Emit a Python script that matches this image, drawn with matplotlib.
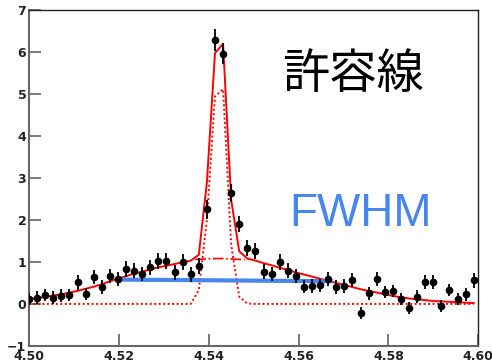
import numpy as np
import matplotlib.pyplot as plt

# binned mass spectrum (bin centres, counts, errors)
mass = [4.5000, 4.5018, 4.5036, 4.5054, 4.5072, 4.5090, 4.5108, 4.5126,
        4.5144, 4.5162, 4.5180, 4.5198, 4.5216, 4.5234, 4.5252, 4.5270,
        4.5288, 4.5306, 4.5324, 4.5342, 4.5360, 4.5378, 4.5396, 4.5414,
        4.5432, 4.5450, 4.5468, 4.5486, 4.5504, 4.5522, 4.5540, 4.5558,
        4.5576, 4.5594, 4.5612, 4.5630, 4.5648, 4.5666, 4.5684, 4.5702,
        4.5720, 4.5738, 4.5756, 4.5774, 4.5792, 4.5810, 4.5828, 4.5846,
        4.5864, 4.5882, 4.5900, 4.5918, 4.5936, 4.5954, 4.5972, 4.5990]
counts = [0.12, 0.15, 0.21, 0.15, 0.20, 0.21, 0.51, 0.24, 0.64, 0.40,
          0.67, 0.60, 0.83, 0.79, 0.71, 0.87, 1.02, 1.02, 0.75, 1.00,
          0.71, 0.90, 2.25, 6.29, 5.95, 2.64, 1.90, 1.33, 1.25, 0.77,
          0.71, 0.99, 0.79, 0.67, 0.41, 0.43, 0.44, 0.60, 0.40, 0.43,
          0.57, -0.22, 0.25, 0.60, 0.28, 0.31, 0.12, -0.10, 0.17, 0.52,
          0.52, -0.05, 0.33, 0.12, 0.23, 0.56]
errors = [0.15, 0.15, 0.15, 0.15, 0.15, 0.15, 0.17, 0.15, 0.17, 0.16,
          0.17, 0.17, 0.18, 0.18, 0.17, 0.18, 0.19, 0.19, 0.18, 0.19,
          0.18, 0.19, 0.22, 0.26, 0.25, 0.22, 0.20, 0.19, 0.19, 0.18,
          0.17, 0.19, 0.18, 0.17, 0.16, 0.16, 0.16, 0.17, 0.16, 0.16,
          0.17, 0.15, 0.15, 0.17, 0.15, 0.15, 0.15, 0.15, 0.15, 0.17,
          0.17, 0.15, 0.15, 0.15, 0.15, 0.17]

# total fit and signal component, evaluated at the bin centres
fit_total = [0.12, 0.14, 0.17, 0.20, 0.23, 0.27, 0.31, 0.36, 0.41, 0.47,
             0.54, 0.60, 0.66, 0.72, 0.77, 0.82, 0.87, 0.91, 0.95, 0.99,
             1.03, 1.17, 2.90, 5.97, 6.19, 2.48, 1.25, 1.08, 1.03, 0.97,
             0.92, 0.86, 0.81, 0.75, 0.70, 0.65, 0.60, 0.55, 0.50, 0.45,
             0.40, 0.35, 0.31, 0.27, 0.23, 0.19, 0.16, 0.13, 0.11, 0.09,
             0.07, 0.06, 0.05, 0.04, 0.03, 0.02]
fit_signal = [0.0] * 21 + [0.33, 2.00, 4.94, 5.11, 1.41, 0.17, 0.01] + [0.0] * 28

# background under the peak
bkg_mass = [4.5370, 4.5396, 4.5414, 4.5432, 4.5450, 4.5468, 4.5480]
bkg_level = [1.06, 1.07, 1.08, 1.08, 1.07, 1.06, 1.05]

# full width at half maximum
fwhm_mass = [4.5191, 4.5676]
fwhm_level = [0.58, 0.54]

blue = "#4786ee"

fig = plt.figure(figsize=(4.92, 3.63), dpi=100)
ax = fig.add_axes([0.059, 0.047, 0.913, 0.926])

ax.plot(mass, fit_signal, color="red", linestyle=(0, (1, 1.3)), linewidth=1.4)
ax.plot(bkg_mass, bkg_level, color="red", linestyle="-.", linewidth=1.2)
ax.plot(mass, fit_total, color="red", linewidth=1.4)
ax.plot(fwhm_mass, fwhm_level, color=blue, linewidth=3.0, solid_capstyle="butt")
ax.errorbar(mass, counts, yerr=errors, fmt="o", color="black", markersize=4.5,
            elinewidth=1.3, capsize=0, zorder=5)

ax.text(0.722, 0.807, "許容線", transform=ax.transAxes, ha="center", va="center",
        fontsize=34, family=["Noto Sans CJK JP", "DejaVu Sans"], color="black")
ax.text(0.737, 0.393, "FWHM", transform=ax.transAxes, ha="center", va="center",
        fontsize=33, family="Liberation Sans", color=blue)

ax.set_xlim(4.50, 4.60)
ax.set_ylim(-1, 7)
ax.set_xticks([4.50, 4.52, 4.54, 4.56, 4.58, 4.60])
ax.set_xticklabels(["4.50", "4.52", "4.54", "4.56", "4.58", "4.60"])
ax.set_yticks(range(-1, 8))
ax.tick_params(direction="in", length=8.5, width=1.1, color="#555555",
               labelsize=9, labelcolor="#222222", pad=2)
ax.tick_params(axis="x", pad=3)
for lab in ax.get_xticklabels() + ax.get_yticklabels():
    lab.set_fontweight("bold")

for side in ("left", "bottom"):
    ax.spines[side].set_color("#666666")
    ax.spines[side].set_linewidth(1.5)
for side in ("top", "right"):
    ax.spines[side].set_color("#222222")
    ax.spines[side].set_linewidth(1.0)

fig.savefig("out.png", dpi=100)
